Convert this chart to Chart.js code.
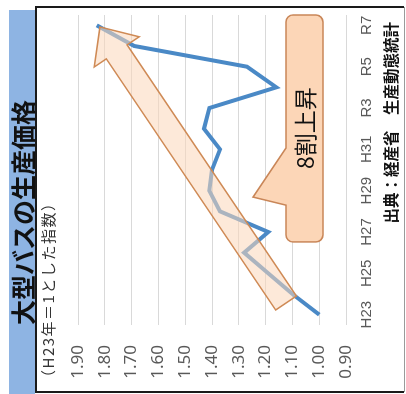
<!DOCTYPE html>
<html>
<head>
<meta charset="utf-8">
<script src="https://cdn.jsdelivr.net/npm/chart.js@4"></script>
<style>
  html, body { margin: 0; padding: 0; background: #fff; overflow: hidden; }
  /* the chart is laid out upright, then turned a quarter turn to the left */
  #wrap {
    position: absolute; left: 0; top: 0;
    width: 394px; height: 406px;
    transform-origin: 0 0;
    transform: translate(0, 394px) rotate(-90deg);
  }
</style>
</head>
<body>
<div id="wrap"><canvas id="c" width="394" height="406"></canvas></div>
<script>
// Fiscal years (Heisei / Reiwa)
const years = ['H23','H24','H25','H26','H27','H28','H29','H30','H31','R2','R3','R4','R5','R6','R7'];
// Years that carry a tick label
const labelledYears = ['H23','H25','H27','H29','H31','R3','R5','R7'];
// Production price index of large buses (H23 = 1)
const priceIndex = [1.00, 1.10, 1.19, 1.28, 1.19, 1.37, 1.41, 1.40, 1.37, 1.43, 1.41, 1.16, 1.27, 1.69, 1.83];
// Value-axis ticks
const valueTicks = [0.90, 1.00, 1.10, 1.20, 1.30, 1.40, 1.50, 1.60, 1.70, 1.80, 1.90];

const titleText = '大型バスの生産価格';
const unitText = '（H23年＝1とした指数）';
const sourceText = '出典：経産省　生産動態統計';
const calloutText = '8割上昇';

// Trend arrow and callout, placed in (year index, index value) space
const trendArrow = { from: [0.565, 1.124], to: [13.92, 1.818] };
const callout = { x0: 3.52, x1: 14.5, y0: 1.124, y1: 0.986,
                  tip: [5.69, 1.247], baseX0: 5.3, baseX1: 8.06, textAt: [9.03, 1.053] };

const CJK = '"Noto Sans CJK JP", "Noto Sans", sans-serif';

const decor = {
  id: 'decor',
  beforeDraw(chart) {
    const ctx = chart.ctx;
    ctx.save();
    ctx.fillStyle = '#ffffff';
    ctx.fillRect(0, 0, chart.width, chart.height);
    // title band
    ctx.fillStyle = '#8eb4e3';
    ctx.fillRect(0, 9, 384, 26);
    ctx.fillStyle = '#111111';
    ctx.font = 'bold 25px ' + CJK;
    ctx.textBaseline = 'middle';
    ctx.textAlign = 'left';
    ctx.fillText(titleText, 69, 23);
    ctx.restore();
  },
  afterDatasetsDraw(chart) {
    const ctx = chart.ctx;
    const xs = chart.scales.x, ys = chart.scales.y;
    const P = (i, v) => [xs.getPixelForValue(i), ys.getPixelForValue(v)];

    // big trend arrow (translucent)
    const [x0, y0] = P(...trendArrow.from);
    const [x1, y1] = P(...trendArrow.to);
    const dx = x1 - x0, dy = y1 - y0, L = Math.hypot(dx, dy);
    const ux = dx / L, uy = dy / L, px = -uy, py = ux;
    const shaftHalf = 12.5, headLen = 30, headHalf = 27;
    const hx = x1 - ux * headLen, hy = y1 - uy * headLen;
    const pts = [
      [x0 + px * shaftHalf, y0 + py * shaftHalf],
      [hx + px * shaftHalf, hy + py * shaftHalf],
      [hx + px * headHalf, hy + py * headHalf],
      [x1, y1],
      [hx - px * headHalf, hy - py * headHalf],
      [hx - px * shaftHalf, hy - py * shaftHalf],
      [x0 - px * shaftHalf, y0 - py * shaftHalf]
    ];
    ctx.save();
    ctx.beginPath();
    pts.forEach((p, k) => k ? ctx.lineTo(p[0], p[1]) : ctx.moveTo(p[0], p[1]));
    ctx.closePath();
    ctx.fillStyle = 'rgba(251,215,185,0.55)';
    ctx.fill();
    ctx.strokeStyle = '#cf8a55';
    ctx.lineWidth = 1.5;
    ctx.lineJoin = 'miter';
    ctx.stroke();

    // callout box with pointer
    const bx0 = xs.getPixelForValue(callout.x0);
    const bx1 = chart.chartArea.right;
    const by0 = ys.getPixelForValue(callout.y0);
    const by1 = ys.getPixelForValue(callout.y1);
    const [tx, ty] = P(...callout.tip);
    const pb0 = xs.getPixelForValue(callout.baseX0);
    const pb1 = xs.getPixelForValue(callout.baseX1);
    const r = 7;
    ctx.beginPath();
    ctx.moveTo(bx0 + r, by0);
    ctx.lineTo(pb0, by0);
    ctx.lineTo(tx, ty);
    ctx.lineTo(pb1, by0);
    ctx.lineTo(bx1 - r, by0);
    ctx.arcTo(bx1, by0, bx1, by0 + r, r);
    ctx.lineTo(bx1, by1 - r);
    ctx.arcTo(bx1, by1, bx1 - r, by1, r);
    ctx.lineTo(bx0 + r, by1);
    ctx.arcTo(bx0, by1, bx0, by1 - r, r);
    ctx.lineTo(bx0, by0 + r);
    ctx.arcTo(bx0, by0, bx0 + r, by0, r);
    ctx.closePath();
    ctx.fillStyle = '#fcd6b7';
    ctx.fill();
    ctx.strokeStyle = '#c98658';
    ctx.lineWidth = 1.5;
    ctx.stroke();

    const [cx, cy] = P(...callout.textAt);
    ctx.fillStyle = '#111111';
    ctx.font = '23px ' + CJK;
    ctx.textAlign = 'center';
    ctx.textBaseline = 'middle';
    ctx.fillText(calloutText, cx, cy);
    ctx.restore();
  },
  afterDraw(chart) {
    const ctx = chart.ctx;
    ctx.save();
    // unit caption above the value axis
    ctx.fillStyle = '#333333';
    ctx.font = '15px ' + CJK;
    ctx.letterSpacing = '1.5px';
    ctx.textAlign = 'left';
    ctx.textBaseline = 'middle';
    ctx.fillText(unitText, 9, 48);
    ctx.letterSpacing = '0px';
    // source line
    ctx.fillStyle = '#111111';
    ctx.font = 'bold 15.5px ' + CJK;
    ctx.textAlign = 'right';
    ctx.fillText(sourceText, 372, 391);
    // outer frame
    ctx.strokeStyle = '#1a1a1a';
    ctx.lineWidth = 2;
    ctx.beginPath();
    ctx.moveTo(2, 404); ctx.lineTo(2, 36); ctx.lineTo(387, 36); ctx.lineTo(387, 404);
    ctx.stroke();
    ctx.strokeStyle = '#9a9a9a';
    ctx.lineWidth = 1;
    ctx.beginPath();
    ctx.moveTo(2, 404.5); ctx.lineTo(387, 404.5);
    ctx.stroke();
    ctx.restore();
  }
};

new Chart(document.getElementById('c'), {
  type: 'line',
  data: {
    labels: years,
    datasets: [{
      data: priceIndex,
      borderColor: '#4a89c6',
      borderWidth: 4,
      pointRadius: 0,
      tension: 0,
      fill: false
    }]
  },
  options: {
    responsive: false,
    animation: false,
    devicePixelRatio: 1,
    layout: { padding: { top: 78, right: 15, bottom: 30, left: 0 } },
    plugins: { legend: { display: false }, title: { display: false }, tooltip: { enabled: false } },
    scales: {
      x: {
        type: 'category',
        offset: true,
        grid: { display: false },
        border: { display: false },
        afterFit(s) { s.height = 30; },
        ticks: {
          autoSkip: false,
          maxRotation: 0,
          padding: 4,
          color: '#595959',
          font: { family: '"Liberation Sans Narrow", "Liberation Sans", sans-serif', size: 15 },
          callback(v, i) { return labelledYears.includes(years[i]) ? years[i] : ''; }
        }
      },
      y: {
        min: 0.9,
        max: 1.9,
        grid: { color: '#d9d9d9', lineWidth: 1, drawTicks: false },
        border: { display: false },
        afterFit(s) { s.width = 69; },
        afterBuildTicks(s) { s.ticks = valueTicks.map(v => ({ value: v })); },
        ticks: {
          padding: 20,
          color: '#595959',
          font: { family: '"Noto Sans", sans-serif', size: 17 },
          callback(v) { return Number(v).toFixed(2); }
        }
      }
    }
  },
  plugins: [decor]
});
</script>
</body>
</html>
